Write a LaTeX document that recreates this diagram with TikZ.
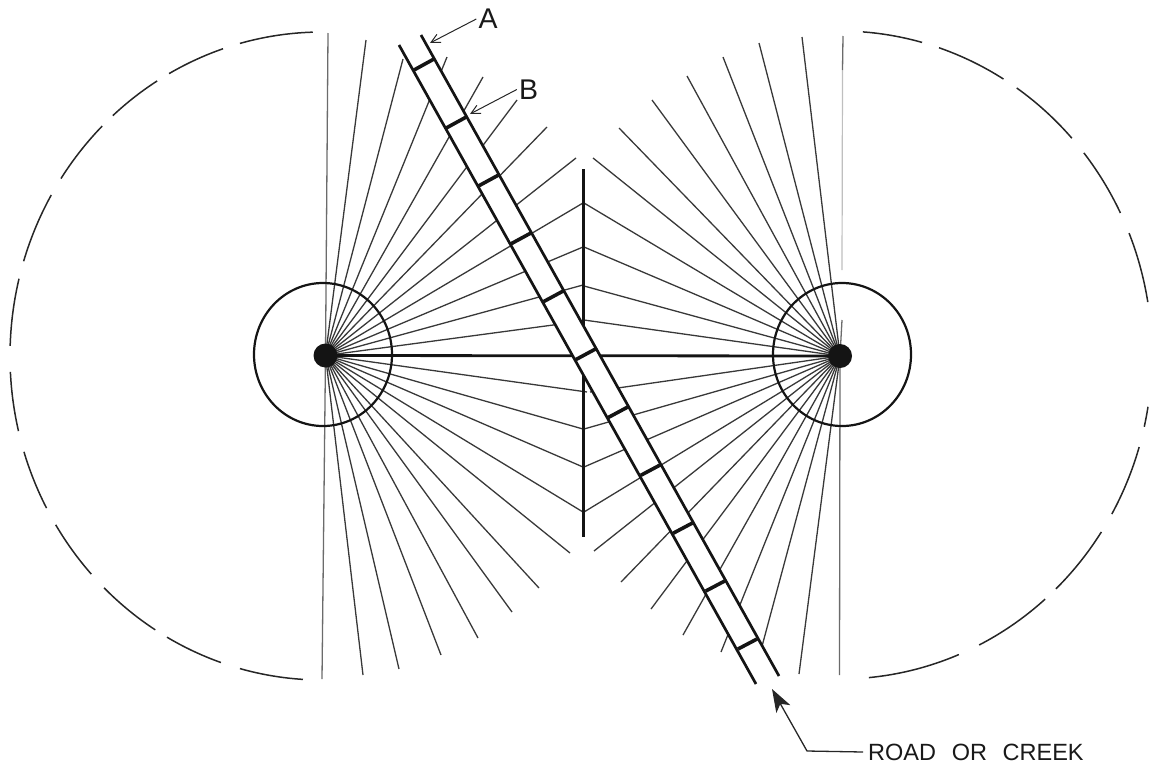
\documentclass[tikz,border=0pt]{standalone}
\usepackage{fontspec}
\setmainfont{Liberation Sans}
\newfontfamily\widelettering[WordSpace=2.4]{Liberation Sans}
\usetikzlibrary{arrows.meta}
\tikzset{
  x=1pt,y=-1pt,
  ray/.style={line width=1.3pt,draw=black!78},
  vert/.style={line width=1.3pt,draw=black!58},
  faint/.style={line width=1.2pt,draw=black!25},
  roadedge/.style={line width=2.7pt,draw=black!92},
  crossbar/.style={line width=3.6pt,draw=black!92},
  barrier/.style={line width=3pt,draw=black!92},
  baseline/.style={line width=2.8pt,draw=black!92},
  ring/.style={line width=2.2pt,draw=black!92},
  outer/.style={line width=1.5pt,draw=black!85},
  pointer/.style={line width=1pt,draw=black!85,-{Straight Barb[length=9pt,width=9pt]}},
  leader/.style={line width=1.3pt,draw=black!85,-{Stealth[length=23pt,width=16pt,inset=6pt]}},
  bigletter/.style={font=\fontsize{28.5}{28.5}\selectfont,inner sep=2pt,text=black!90},
  lettering/.style={font=\widelettering\fontsize{23.5}{23.5}\selectfont,inner xsep=5pt,inner ysep=2pt,text=black!90}
}
\begin{document}
\begin{tikzpicture}
\useasboundingbox (0,0) rectangle (1150,766);
\coordinate (L) at (325.5,355.5);
\coordinate (R) at (840,356);

% left rays
\foreach \p in {(583,321),(583,285),(583,247),(583,203),(576,158),(547,127),(517,100),(483,77),(447,57),(403,59),(366,40),
                (587,392),(583,429),(583,467),(583,512),(570,553),(539,588),(512,612),(478,638),(441,655),(399,669),(363,675)}
  \draw[ray] (L) -- \p;
\draw[vert] (L) -- (328,33);
\draw[vert] (L) -- (322,679);

% right rays
\foreach \p in {(584,320),(584,286),(584,247),(584,203),(593,158),(619,128),(652,100),(687,76),(723,57),(759,43),(802,37),
                (590,392),(584,429),(584,467),(584,512),(594,551),(621,582),(651,609),(683,635),(721,652),(761,650),(799,674)}
  \draw[ray] (R) -- \p;
\draw[faint] (842.5,70) -- (842,270);
\draw[vert] (843,36) -- (842.5,70);
\draw[vert] (R) -- (842,320);
\draw[vert] (R) -- (839.5,675);

% baseline and barrier
\draw[baseline] (L) -- (R);
\draw[barrier] (583.5,169) -- (583.5,537);

% road
\fill[white] (399,45) -- (421,35) -- (779,676) -- (756,684) -- cycle;
\coordinate (roadLa) at (399,45);
\coordinate (roadLb) at (756,684);
\coordinate (roadRa) at (421,35);
\coordinate (roadRb) at (779,676);
\draw[roadedge] (roadLa) -- (roadLb);
\draw[roadedge] (roadRa) -- (roadRb);
\foreach \i in {0,...,10}
  \draw[crossbar] ({414+32.4*\i},{70+57.9*\i}) -- ({434+32.3*\i},{59+58*\i});

% rings and dots
\draw[ring] (323,354.5) ellipse [x radius=69,y radius=71.5];
\draw[ring] (842,354.5) ellipse [x radius=69,y radius=71.5];
\fill[black!92] (L) circle [radius=12];
\fill[black!92] (R) circle [radius=12];

% outer broken arcs, left
\foreach \a/\b in {88.3/74.75,71.5/60.65,58.1/47.9,45.2/33.2,29.8/17,13.8/1.8,-2.8/-13.4,-17.2/-28,-31.4/-42.3,-45.7/-57.7,-60.2/-71.1,-74.75/-86.5}
  \draw[outer] plot[domain=\a:\b,samples=24,smooth] ({322-312*cos(\x)},{356-324*sin(\x)});
% outer broken arcs, right
\foreach \a/\b in {85.8/74.75,71.5/58.4,55.5/42,38.6/26,22.1/9.4,-9.2/-12.8,-16.5/-29.4,-33.1/-46.2,-48.9/-63.5,-67.6/-84.7}
  \draw[outer] plot[domain=\a:\b,samples=24,smooth] ({840+312*cos(\x)},{355-324*sin(\x)});

% labels
\node[bigletter] (labelA) at (488,19) {A};
\node[bigletter] (labelB) at (528.5,89.5) {B};
\node[lettering,anchor=west] (labelRoad) at (863,752) {ROAD OR CREEK};
\coordinate (tipA) at (430,43);
\coordinate (tipB) at (470,114);
\coordinate (tipRoad) at (772,689);
\coordinate (elbow) at (807,751);
\draw[pointer] (labelA.west) -- (tipA);
\draw[pointer] (labelB.west) -- (tipB);
\draw[leader] (labelRoad.west) -- (elbow) -- (tipRoad);
\end{tikzpicture}
\end{document}
